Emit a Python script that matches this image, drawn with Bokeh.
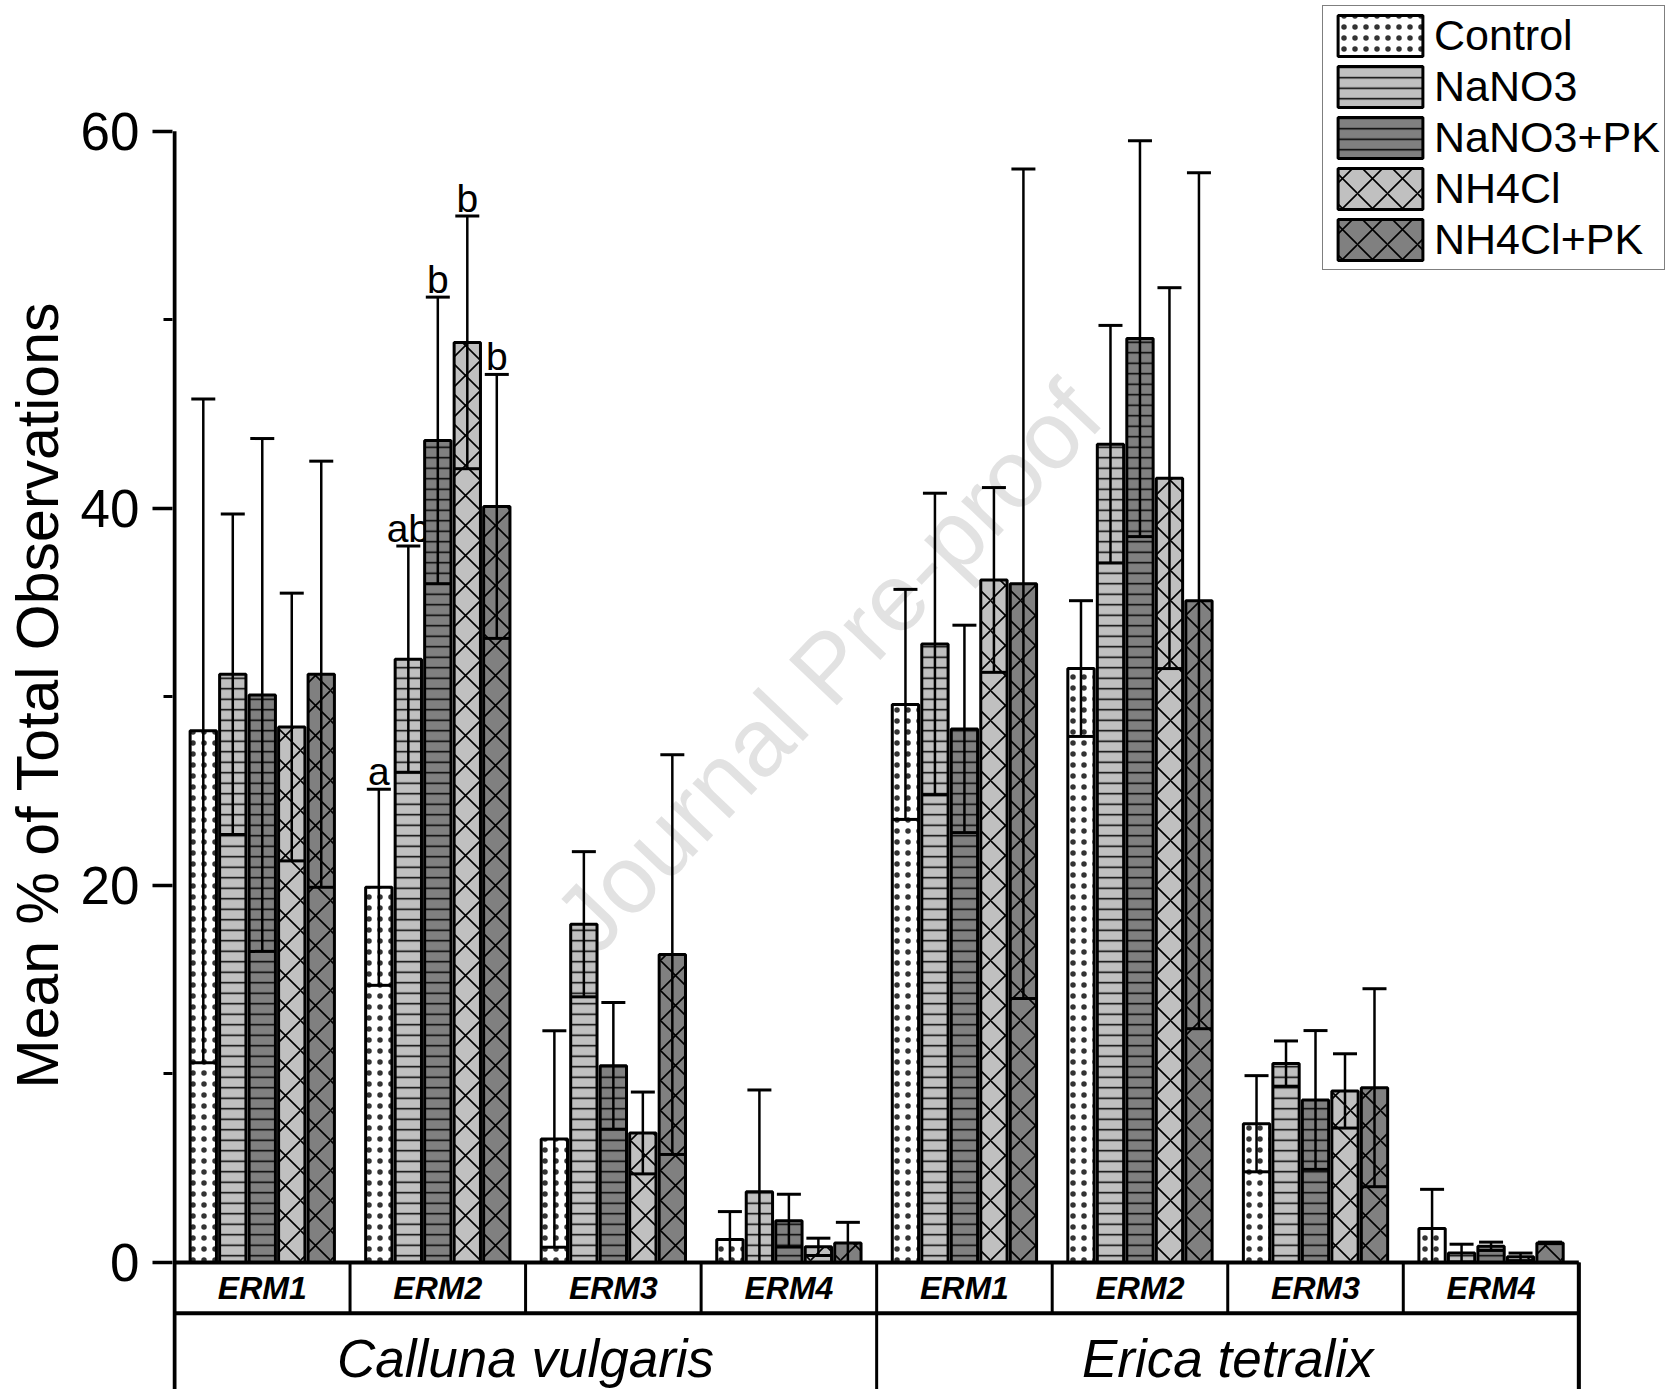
import math
from bokeh.plotting import figure
from bokeh.models import ColumnDataSource, Whisker, TeeHead, FixedTicker, Legend, LegendItem
from bokeh.core.properties import value
from bokeh.embed import file_html
from bokeh.resources import INLINE

# ---------------- data ----------------
species = ["Calluna vulgaris", "Erica tetralix"]
erm_types = ["ERM1", "ERM2", "ERM3", "ERM4"]
treatments = ["Control", "NaNO3", "NaNO3+PK", "NH4Cl", "NH4Cl+PK"]

# groups in order: Calluna ERM1..ERM4, Erica ERM1..ERM4
control_mean = [28.2, 19.9, 6.55, 1.22, 29.6, 31.5, 7.36, 1.80]
control_sd = [17.6, 5.2, 5.74, 1.48, 6.1, 3.6, 2.55, 2.08]
nano3_mean = [31.2, 32.0, 17.94, 3.75, 32.8, 43.4, 10.55, 0.50]
nano3_sd = [8.5, 6.0, 3.85, 5.40, 8.0, 6.3, 1.20, 0.47]
nano3pk_mean = [30.1, 43.6, 10.43, 2.22, 28.3, 49.0, 8.62, 0.86]
nano3pk_sd = [13.6, 7.6, 3.36, 1.40, 5.5, 10.5, 3.68, 0.22]
nh4cl_mean = [28.4, 48.8, 6.87, 0.83, 36.2, 41.6, 9.10, 0.30]
nh4cl_sd = [7.1, 6.7, 2.17, 0.46, 4.9, 10.1, 1.97, 0.20]
nh4clpk_mean = [31.2, 40.1, 16.33, 1.03, 36.0, 35.1, 9.27, 1.04]
nh4clpk_sd = [11.3, 7.0, 10.60, 1.10, 22.0, 22.7, 5.25, 0.04]

# significance letters (Calluna vulgaris, ERM2)
sig_group = 1
sig_letters = ["a", "ab", "b", "b", "b"]

y_ticks = [0, 20, 40, 60]
y_minor = [10, 30, 50]

means = [control_mean, nano3_mean, nano3pk_mean, nh4cl_mean, nh4clpk_mean]
sds = [control_sd, nano3_sd, nano3pk_sd, nh4cl_sd, nh4clpk_sd]

# ---------------- styles ----------------
fills = ["white", "#c0c0c0", "#808080", "#c0c0c0", "#808080"]
hatches = ["dot", "horizontal_line", "horizontal_line", "diagonal_cross", "diagonal_cross"]
hatch_colors = ["#333333", "black", "black", "black", "black"]
hatch_scales = [11, 10.5, 10.5, 30, 30]
hatch_weights = [1.1, 1.5, 1.5, 1.6, 1.6]

FONT = "Liberation Sans"
PITCH = 0.168
BAR_W = 0.150
N_GROUPS = len(species) * len(erm_types)

W, H = 1666, 1389
LEFT = 172
PX_X = 175.54       # pixels per group
PX_Y = 18.855       # pixels per y unit
Y0_PX = 1262        # pixel row of y = 0
x_start = -2 / PX_X
x_end = x_start + (W - LEFT) / PX_X
y_end = Y0_PX / PX_Y
y_start = -(H - Y0_PX) / PX_Y
ERM_ROW_BOTTOM = -50.7 / PX_Y
SPECIES_MID = -96 / PX_Y

p = figure(width=W, height=H, x_range=(x_start, x_end), y_range=(y_start, y_end),
           output_backend="svg", toolbar_location=None, tools="",
           min_border_left=LEFT, min_border_right=0, min_border_top=0, min_border_bottom=0)
p.outline_line_color = None
p.xgrid.visible = False
p.ygrid.visible = False
p.xaxis.visible = False
p.background_fill_color = "white"

yax = p.yaxis[0]
yax.ticker = FixedTicker(ticks=y_ticks, minor_ticks=y_minor)
yax.axis_line_color = None
yax.major_tick_out = 20
yax.major_tick_in = 0
yax.minor_tick_out = 9
yax.minor_tick_in = 0
yax.major_tick_line_width = 3.5
yax.minor_tick_line_width = 3
yax.major_label_text_font = FONT
yax.major_label_text_font_size = "53px"
yax.major_label_text_color = "black"
yax.major_label_standoff = 13
yax.axis_label = "Mean % of Total Observations"
yax.axis_label_text_font = FONT
yax.axis_label_text_font_size = "59px"
yax.axis_label_text_font_style = "normal"
yax.axis_label_text_color = "black"
yax.axis_label_standoff = 7

# watermark
p.text(x=[3.72], y=[31.6], text=["Journal Pre-proof"], angle=0.81,
       text_font=value(FONT), text_font_size="96px", text_color="#e2e2e2",
       text_align="center", text_baseline="middle")

legend_items = []
for k, name in enumerate(treatments):
    xs = [g + 0.5 + (k - 2) * PITCH for g in range(N_GROUPS)]
    upper = [m + s for m, s in zip(means[k], sds[k])]
    lower = [max(0.0, m - s) for m, s in zip(means[k], sds[k])]
    src = ColumnDataSource(dict(x=xs, top=means[k], upper=upper, lower=lower))
    r = p.vbar(x="x", top="top", bottom=0, width=BAR_W, source=src,
               fill_color=fills[k], line_color="black", line_width=3,
               hatch_pattern=hatches[k], hatch_color=hatch_colors[k],
               hatch_scale=hatch_scales[k], hatch_weight=hatch_weights[k])
    legend_items.append(LegendItem(label=name, renderers=[r]))
    w = Whisker(base="x", upper="upper", lower="lower", source=src, dimension="height",
                line_color="black", line_width=2.5, level="annotation",
                upper_head=TeeHead(size=24, line_width=3, line_color="black"),
                lower_head=TeeHead(size=26, line_width=3, line_color="black"))
    p.add_layout(w)
    # significance letter
    p.text(x=[xs[sig_group]], y=[upper[sig_group]], text=[sig_letters[k]],
           text_font=value(FONT), text_font_size="39px", text_color="black",
           text_align="center", text_baseline="bottom", y_offset=4)

# table / axis lines
xs_div = list(range(N_GROUPS + 1))
p.segment(x0=[0], y0=[0], x1=[N_GROUPS], y1=[0], line_color="black", line_width=4)
p.segment(x0=[0], y0=[ERM_ROW_BOTTOM], x1=[N_GROUPS], y1=[ERM_ROW_BOTTOM], line_color="black", line_width=4)
p.segment(x0=xs_div, y0=[0] * len(xs_div), x1=xs_div, y1=[ERM_ROW_BOTTOM] * len(xs_div),
          line_color="black", line_width=3)
sp_div = [0, len(erm_types), N_GROUPS]
p.segment(x0=sp_div, y0=[ERM_ROW_BOTTOM] * 3, x1=sp_div, y1=[y_start] * 3,
          line_color="black", line_width=3)
p.segment(x0=[0, N_GROUPS], y0=[y_start, y_start], x1=[0, N_GROUPS], y1=[y_ticks[-1], 0],
          line_color="black", line_width=4)

# labels in table
erm_x = [g + 0.5 for g in range(N_GROUPS)]
erm_lab = erm_types * len(species)
p.text(x=erm_x, y=[ERM_ROW_BOTTOM / 2] * N_GROUPS, text=erm_lab,
       text_font=value(FONT), text_font_size="32px", text_font_style="bold italic",
       text_color="black", text_align="center", text_baseline="middle")
sp_x = [len(erm_types) * (i + 0.5) for i in range(len(species))]
p.text(x=sp_x, y=[SPECIES_MID] * len(species), text=species,
       text_font=value(FONT), text_font_size="53px", text_font_style="italic",
       text_color="black", text_align="center", text_baseline="middle")

# legend (lower-left corner placed in screen px relative to the frame's lower-left)
LEG_PAD, LEG_GH, LEG_SP = 4, 51, 0
leg_h = 2 * LEG_PAD + len(treatments) * LEG_GH + (len(treatments) - 1) * LEG_SP
legend = Legend(items=legend_items, location=(1322 - LEFT, H - 7 - leg_h))
legend.margin = 0
legend.padding = LEG_PAD
legend.spacing = LEG_SP
legend.glyph_width = 106
legend.glyph_height = LEG_GH
legend.label_height = LEG_GH
legend.label_standoff = 1
legend.label_text_font = FONT
legend.label_text_font_size = "43px"
legend.label_text_color = "black"
legend.border_line_color = "black"
legend.border_line_width = 1.5
legend.background_fill_color = "white"
legend.background_fill_alpha = 1.0
p.add_layout(legend)

open("out.html", "w").write(file_html(p, INLINE))
